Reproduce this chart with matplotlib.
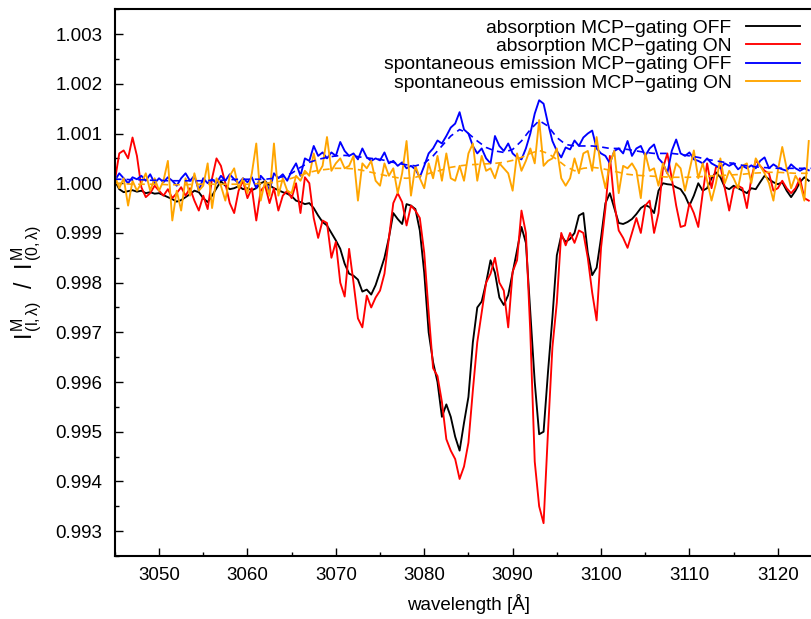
import numpy as np
import matplotlib
matplotlib.use("Agg")
import matplotlib.pyplot as plt
from matplotlib.ticker import MultipleLocator, FormatStrFormatter

plt.rcParams['font.family'] = ['Liberation Sans', 'DejaVu Sans']
plt.rcParams['mathtext.fontset'] = 'custom'
plt.rcParams['mathtext.rm'] = 'Liberation Sans'
plt.rcParams['mathtext.it'] = 'Liberation Sans'

# wavelength grid of the measured spectra [Å]
wavelength = np.arange(3045.0, 3124.0, 0.5)
# wavelength grid of the smoothed emission curves [Å]
wavelength_smooth = np.arange(3045.0, 3125.0, 1.0)

absorption_off = [
    1.00005, 0.99988, 0.99982, 0.99984, 0.99986, 0.99983, 0.99985, 0.99980, 0.99982, 0.99979,
    0.99980, 0.99976, 0.99972, 0.99968, 0.99963, 0.99966, 0.99972, 0.99978, 0.99985, 0.99982,
    0.99970, 0.99962, 0.99975, 0.99990, 1.00004, 0.99995, 0.99988, 0.99990, 0.99994, 0.99988,
    0.99990, 0.99986, 0.99990, 1.00000, 1.00004, 0.99996, 0.99990, 0.99986, 0.99982, 0.99979,
    0.99974, 0.99965, 0.99962, 0.99958, 0.99960, 0.99950, 0.99935, 0.99922, 0.99915, 0.99900,
    0.99885, 0.99868, 0.99838, 0.99818, 0.99814, 0.99806, 0.99782, 0.99786, 0.99776, 0.99795,
    0.99822, 0.99850, 0.99890, 0.99940, 0.99928, 0.99918, 0.99958, 0.99955, 0.99948, 0.99905,
    0.99820, 0.99700, 0.99640, 0.99600, 0.99530, 0.99555, 0.99530, 0.99490, 0.99462, 0.99518,
    0.99570, 0.99680, 0.99750, 0.99762, 0.99800, 0.99845, 0.99820, 0.99770, 0.99755, 0.99775,
    0.99820, 0.99865, 0.99912, 0.99880, 0.99740, 0.99600, 0.99495, 0.99500, 0.99620, 0.99730,
    0.99855, 0.99895, 0.99882, 0.99888, 0.99900, 0.99935, 0.99940, 0.99860, 0.99815, 0.99830,
    0.99890, 0.99960, 0.99980, 0.99950, 0.99920, 0.99918, 0.99922, 0.99928, 0.99938, 0.99950,
    0.99956, 0.99952, 0.99940, 0.99985, 1.00000, 0.99998, 0.99997, 0.99992, 0.99988, 0.99975,
    0.99955, 0.99975, 1.00000, 0.99985, 0.99990, 1.00010, 1.00022, 1.00012, 0.99992, 0.99988,
    0.99995, 0.99990, 0.99985, 0.99980, 0.99990, 0.99988, 1.00002, 1.00015, 1.00008, 1.00002,
    0.99998, 1.00002, 0.99985, 0.99972, 0.99985, 1.00002, 1.00012, 1.00005,
]

absorption_on = [
    1.00005, 1.00060, 1.00066, 1.00050, 1.00092, 1.00055, 0.99992, 0.99972, 0.99980, 0.99995,
    0.99985, 0.99975, 0.99988, 0.99970, 0.99980, 0.99992, 0.99975, 0.99990, 0.99965, 0.99945,
    0.99975, 0.99948, 1.00010, 1.00050, 1.00035, 1.00000, 0.99960, 0.99940, 0.99985, 1.00005,
    0.99970, 0.99990, 0.99925, 0.99985, 0.99995, 0.99960, 0.99990, 0.99945, 0.99975, 0.99985,
    0.99970, 1.00000, 0.99940, 1.00012, 1.00000, 0.99930, 0.99890, 0.99925, 0.99920, 0.99850,
    0.99882, 0.99800, 0.99772, 0.99868, 0.99800, 0.99728, 0.99710, 0.99774, 0.99750, 0.99770,
    0.99784, 0.99818, 0.99889, 0.99960, 0.99980, 0.99962, 0.99915, 0.99955, 0.99945, 0.99930,
    0.99860, 0.99740, 0.99628, 0.99612, 0.99560, 0.99485, 0.99462, 0.99445, 0.99405, 0.99430,
    0.99478, 0.99583, 0.99680, 0.99740, 0.99800, 0.99818, 0.99850, 0.99800, 0.99784, 0.99710,
    0.99822, 0.99845, 0.99945, 0.99900, 0.99700, 0.99440, 0.99350, 0.99316, 0.99500, 0.99670,
    0.99760, 0.99900, 0.99875, 0.99900, 0.99880, 0.99905, 0.99900, 0.99850, 0.99780, 0.99724,
    0.99870, 0.99950, 1.00055, 0.99960, 0.99905, 0.99890, 0.99870, 0.99900, 0.99930, 0.99900,
    0.99955, 0.99965, 0.99900, 0.99940, 1.00030, 1.00060, 1.00010, 0.99955, 0.99912, 0.99915,
    0.99960, 0.99940, 0.99912, 0.99980, 1.00040, 0.99990, 1.00032, 1.00035, 0.99990, 0.99945,
    0.99990, 0.99995, 0.99990, 0.99950, 1.00010, 1.00046, 1.00035, 1.00025, 1.00020, 0.99985,
    0.99990, 1.00005, 0.99990, 0.99980, 0.99990, 1.00010, 0.99970, 0.99965,
]

emission_off = [
    1.00005, 1.00020, 1.00010, 1.00000, 1.00012, 1.00008, 1.00015, 1.00005, 1.00018, 1.00000,
    1.00010, 1.00002, 1.00012, 1.00005, 0.99995, 1.00010, 1.00020, 1.00005, 1.00015, 0.99985,
    1.00010, 1.00000, 1.00008, 1.00000, 1.00015, 1.00005, 1.00018, 1.00008, 1.00000, 1.00010,
    1.00002, 1.00012, 0.99990, 1.00015, 1.00005, 0.99985, 1.00020, 1.00010, 1.00018, 1.00005,
    1.00025, 1.00040, 1.00015, 1.00050, 1.00045, 1.00075, 1.00055, 1.00062, 1.00050, 1.00062,
    1.00055, 1.00083, 1.00065, 1.00055, 1.00060, 1.00048, 1.00070, 1.00052, 1.00045, 1.00050,
    1.00046, 1.00062, 1.00040, 1.00045, 1.00035, 1.00042, 1.00030, 1.00035, 1.00028, 1.00012,
    1.00035, 1.00060, 1.00070, 1.00086, 1.00080, 1.00095, 1.00112, 1.00120, 1.00143, 1.00108,
    1.00100, 1.00075, 1.00060, 1.00070, 1.00050, 1.00040, 1.00095, 1.00075, 1.00065, 1.00080,
    1.00060, 1.00052, 1.00048, 1.00070, 1.00100, 1.00140, 1.00167, 1.00160, 1.00120, 1.00085,
    1.00065, 1.00052, 1.00072, 1.00068, 1.00086, 1.00075, 1.00092, 1.00100, 1.00106, 1.00070,
    1.00060, 1.00055, 1.00040, 1.00065, 1.00070, 1.00060, 1.00085, 1.00055, 1.00070, 1.00075,
    1.00055, 1.00070, 1.00078, 1.00050, 1.00040, 1.00020, 1.00065, 1.00088, 1.00060, 1.00055,
    1.00062, 1.00048, 1.00045, 1.00040, 1.00050, 1.00040, 1.00035, 1.00030, 1.00040, 1.00035,
    1.00040, 1.00028, 1.00035, 1.00030, 1.00036, 1.00030, 1.00045, 1.00052, 1.00030, 1.00038,
    1.00032, 1.00028, 1.00025, 1.00038, 1.00030, 1.00025, 1.00030, 1.00026,
]

emission_on = [
    1.00015, 0.99990, 1.00010, 0.99955, 1.00005, 0.99985, 1.00000, 1.00020, 0.99985, 1.00010,
    0.99985, 1.00005, 1.00045, 0.99925, 0.99985, 0.99945, 1.00010, 0.99975, 1.00020, 0.99985,
    0.99995, 1.00040, 0.99950, 1.00010, 0.99995, 0.99965, 1.00015, 1.00030, 0.99990, 1.00010,
    0.99980, 1.00020, 1.00080, 0.99965, 1.00005, 0.99975, 1.00080, 0.99975, 1.00010, 0.99985,
    0.99980, 1.00015, 1.00005, 1.00025, 1.00015, 1.00060, 1.00020, 1.00035, 1.00093, 1.00025,
    1.00040, 1.00050, 1.00030, 1.00035, 1.00055, 0.99965, 1.00040, 1.00030, 1.00045, 1.00005,
    0.99995, 1.00040, 1.00015, 1.00030, 0.99980, 1.00020, 1.00085, 0.99975, 1.00035, 1.00010,
    0.99990, 1.00040, 1.00010, 1.00055, 1.00005, 1.00060, 1.00010, 1.00005, 1.00035, 1.00005,
    1.00060, 1.00080, 1.00005, 1.00055, 1.00025, 1.00030, 1.00010, 1.00040, 1.00030, 1.00020,
    0.99985, 1.00060, 1.00025, 1.00045, 1.00070, 1.00040, 1.00127, 1.00035, 1.00045, 1.00050,
    1.00070, 1.00010, 0.99995, 1.00010, 1.00050, 1.00020, 1.00060, 1.00065, 1.00025, 1.00093,
    1.00030, 0.99990, 1.00040, 1.00065, 0.99980, 1.00035, 1.00030, 1.00040, 1.00025, 0.99970,
    1.00060, 1.00025, 1.00030, 0.99995, 1.00040, 1.00020, 1.00005, 1.00040, 1.00030, 0.99985,
    1.00025, 1.00066, 1.00010, 1.00040, 1.00005, 0.99965, 1.00000, 1.00050, 1.00000, 1.00025,
    1.00010, 0.99990, 1.00035, 1.00040, 1.00000, 1.00050, 1.00035, 1.00020, 1.00000, 0.99965,
    1.00025, 1.00073, 1.00030, 0.99990, 1.00015, 1.00000, 0.99965, 1.00085,
]

emission_off_smooth = [
    1.00008, 1.00008, 1.00007, 1.00007, 1.00006, 1.00006, 1.00005, 1.00005, 1.00005, 1.00005,
    1.00005, 1.00006, 1.00006, 1.00007, 1.00008, 1.00008, 1.00008, 1.00008, 1.00010, 1.00013,
    1.00020, 1.00032, 1.00042, 1.00048, 1.00052, 1.00055, 1.00056, 1.00055, 1.00052, 1.00050,
    1.00048, 1.00044, 1.00040, 1.00037, 1.00035, 1.00040, 1.00055, 1.00075, 1.00095, 1.00108,
    1.00100, 1.00085, 1.00072, 1.00065, 1.00062, 1.00068, 1.00085, 1.00108, 1.00126, 1.00115,
    1.00092, 1.00078, 1.00075, 1.00075, 1.00075, 1.00073, 1.00070, 1.00070, 1.00068, 1.00065,
    1.00062, 1.00060, 1.00060, 1.00060, 1.00058, 1.00055, 1.00052, 1.00048, 1.00045, 1.00042,
    1.00040, 1.00036, 1.00034, 1.00032, 1.00031, 1.00030, 1.00030, 1.00030, 1.00030, 1.00030,
]

emission_on_smooth = [
    1.00000, 0.99999, 0.99998, 0.99998, 0.99998, 0.99998, 0.99997, 0.99997, 0.99997, 0.99998,
    0.99998, 0.99998, 0.99998, 0.99998, 0.99998, 0.99998, 0.99999, 1.00000, 1.00002, 1.00005,
    1.00010, 1.00016, 1.00022, 1.00026, 1.00028, 1.00030, 1.00030, 1.00029, 1.00026, 1.00022,
    1.00018, 1.00014, 1.00011, 1.00010, 1.00012, 1.00017, 1.00022, 1.00027, 1.00032, 1.00035,
    1.00037, 1.00038, 1.00039, 1.00040, 1.00042, 1.00046, 1.00052, 1.00060, 1.00066, 1.00060,
    1.00048, 1.00034, 1.00025, 1.00030, 1.00032, 1.00030, 1.00026, 1.00022, 1.00018, 1.00016,
    1.00015, 1.00014, 1.00013, 1.00012, 1.00012, 1.00012, 1.00013, 1.00014, 1.00015, 1.00016,
    1.00017, 1.00018, 1.00020, 1.00021, 1.00022, 1.00022, 1.00021, 1.00020, 1.00020, 1.00020,
]

labels = [
    "absorption MCP\u2212gating OFF",
    "absorption MCP\u2212gating ON",
    "spontaneous emission MCP\u2212gating OFF",
    "spontaneous emission MCP\u2212gating ON",
]
colors = ["black", "#ff0000", "#0000ff", "#ffa500"]

fig = plt.figure(figsize=(8.11, 6.19), dpi=100)
ax = fig.add_axes([0.1416, 0.1018, 0.872, 0.8832])

lw = 1.35
ax.plot(wavelength, absorption_off, color=colors[0], lw=lw, label=labels[0])
ax.plot(wavelength, absorption_on, color=colors[1], lw=lw, label=labels[1])
ax.plot(wavelength, emission_off, color=colors[2], lw=lw, label=labels[2])
ax.plot(wavelength, emission_on, color=colors[3], lw=lw, label=labels[3])
ax.plot(wavelength_smooth, emission_off_smooth, color=colors[2], lw=1.2, ls=(0, (4, 3)))
ax.plot(wavelength_smooth, emission_on_smooth, color=colors[3], lw=1.2, ls=(0, (4, 3)))

ax.set_xlim(3045, 3125)
ax.set_ylim(0.9925, 1.0035)

ax.xaxis.set_major_locator(MultipleLocator(10))
ax.xaxis.set_minor_locator(MultipleLocator(5))
ax.yaxis.set_major_locator(MultipleLocator(0.001))
ax.yaxis.set_minor_locator(MultipleLocator(0.0005))
ax.yaxis.set_major_formatter(FormatStrFormatter('%.3f'))

ax.tick_params(which='both', direction='in', top=False, right=False,
               labelsize=13.5, colors='black', width=1.0)
ax.tick_params(which='major', length=6)
ax.tick_params(which='minor', length=3)
ax.tick_params(axis='y', pad=9)
ax.tick_params(axis='x', pad=8)

for side in ['left', 'bottom', 'top']:
    ax.spines[side].set_linewidth(1.5)
ax.spines['right'].set_visible(False)

ax.set_xlabel('wavelength [Å]', fontsize=13.5, labelpad=7)
ax.set_ylabel(r'$\mathregular{I^{\,M}_{\,(l,\lambda)}\ \ /\ \ I^{\,M}_{\,(0,\lambda)}}$',
              fontsize=16.5, labelpad=8)

leg = ax.legend(loc='upper right', bbox_to_anchor=(0.983, 1.0), frameon=False,
                markerfirst=False, fontsize=13.9, handlelength=2.8,
                handletextpad=0.75, labelspacing=0.04, borderaxespad=0.12)

fig.savefig('out.png', dpi=100)
